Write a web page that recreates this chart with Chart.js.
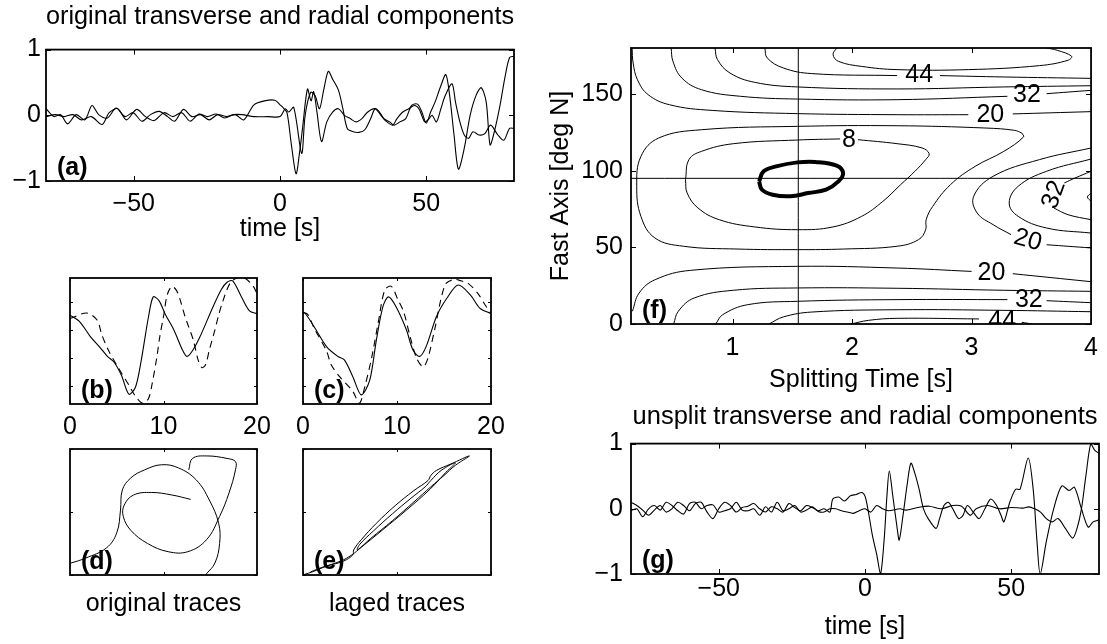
<!DOCTYPE html>
<html>
<head>
<meta charset="utf-8">
<script src="https://cdn.jsdelivr.net/npm/chart.js@4.4.1/dist/chart.umd.min.js"></script>
<style>
body { margin: 0; background: #fff; width: 1107px; height: 644px; position: relative; overflow: hidden; }
canvas { position: absolute; }
</style>
</head>
<body>
<canvas id="pa"></canvas>
<canvas id="pb"></canvas>
<canvas id="pc"></canvas>
<canvas id="pd"></canvas>
<canvas id="pe"></canvas>
<canvas id="pf"></canvas>
<canvas id="pg"></canvas>
<script>
// ---- (a) original transverse and radial components
const aTime1 = [-80,-77.3,-75,-72.6,-69.7,-66.7,-64.3,-62,-59,-56,-53,-50.2,-47.2,-44.3,-41.3,-38.4,-36,-33,-30.1,-27.2,-24.2,-21.3,-18.3,-15.3,-12.4,-8.9,-5.3,-1.8,0,1.2,2.4,3.9,5.5,6.7,7.7,9.4,10.6,11.5,12.6,14.2,16,18,20,22,24,26,28,30,32.5,34.5,36,38.5,40,42,44,46,47.5,49.5,51,52,53.5,55,56.5,58.8,60,61.5,63,64.5,66,68,70,72,74.5,76.5,78.5,80];
const aTrace1 = [0.10,-0.02,0.01,-0.13,0.01,-0.07,0.15,0.01,-0.04,0.11,-0.02,0.04,-0.09,0.01,0.06,-0.02,-0.09,0.09,-0.02,0.01,-0.07,0.01,-0.02,0.01,-0.07,0.16,0.22,0.23,0.16,0.11,0.04,-0.45,-0.89,-0.56,-0.2,0.40,0.22,0.36,0.06,-0.40,-0.1,0.05,0.1,0.0,-0.05,-0.1,-0.05,0.05,0.1,0.0,-0.08,-0.15,-0.05,0.05,0.1,0.15,0.1,-0.1,-0.05,0.0,-0.1,0.1,0.3,0.48,0.2,-0.1,-0.3,-0.35,-0.25,-0.3,-0.28,-0.15,-0.3,-0.38,-0.2,-0.2];
const aTime2 = [-80,-76.8,-73.8,-70.8,-67.9,-64.5,-60.8,-58.4,-55.5,-52.5,-49,-46,-43.1,-39.6,-36.6,-33.6,-30.7,-27.7,-24.8,-21.8,-18.9,-15.9,-13,-8.9,-4.1,0,1.8,3,4.7,7.4,8.6,10.5,12,13.5,15,16.5,18,20,21.5,23,25,27,29,31,32.5,34,35.5,37.5,39,41,43,45,47,48.5,50,51.5,53,55,56.7,58,59.5,61,63,65,67,68.8,70.5,71.8,73,75,77,78.5,80];
const aTrace2 = [-0.02,0.01,-0.02,0.01,-0.07,-0.02,-0.14,0.04,0.10,-0.07,0.09,-0.02,-0.08,0.04,-0.02,0.04,-0.09,0.02,-0.02,0.02,-0.04,0.01,0.01,-0.02,-0.02,-0.02,0.1,0.05,0.12,-0.58,0.0,0.35,0.3,0.1,0.4,0.67,0.55,0.38,0.1,-0.2,-0.25,-0.26,-0.22,-0.05,0.1,0.05,-0.05,-0.1,-0.15,-0.1,-0.05,0.15,0.17,0.05,-0.12,0.05,0.2,0.45,0.62,0.3,-0.3,-0.82,-0.5,0.0,0.3,0.42,0.2,-0.45,-0.3,0.1,0.6,0.88,0.9];

// ---- (b) original window, (c) shifted window
const bTimeSolid = [0,1.0,2.2,3.2,4.0,4.7,5.5,6.3,7.0,7.6,8.4,8.9,9.5,10.2,11.1,12.0,12.5,13.1,13.9,15.3,16.2,16.8,17.4,18.3,19.2,20];
const bSolid = [0.41,0.32,0.10,-0.05,-0.18,-0.26,-0.45,-0.72,-0.62,-0.25,0.39,0.67,0.62,0.42,0.20,-0.08,-0.18,-0.1,0.10,0.53,0.78,0.88,0.9,0.68,0.47,0.43];
const bTimeDash = [0,1.8,2.9,3.4,4.1,5.2,6.3,7.0,7.8,8.4,8.8,9.3,9.6,10.0,10.4,10.9,11.4,11.8,12.3,12.7,13.2,13.7,14.1,14.5,14.9,15.5,15.9,16.3,17.1,18.0,18.8,19.6,20];
const bDash = [0.36,0.44,0.34,0.13,-0.09,-0.35,-0.59,-0.75,-0.85,-0.78,-0.56,-0.18,0.10,0.39,0.70,0.82,0.76,0.62,0.39,0.24,0.05,-0.23,-0.34,-0.3,-0.09,0.2,0.41,0.59,0.86,0.95,0.93,0.82,0.72];
const cTimeSolid = [0,0.2,1.2,2.5,3.7,4.4,5.3,6.2,7.1,7.8,8.5,9.1,9.9,11.0,11.7,12.4,13.1,14.2,15.3,16.5,17.8,18.8,20];
const cSolid = [0.43,0.44,0.24,-0.04,-0.18,-0.23,-0.47,-0.73,-0.52,0.05,0.53,0.67,0.53,0.20,-0.09,-0.18,-0.04,0.39,0.65,0.84,0.70,0.51,0.43];
const cTimeDash = [0,0.5,1.2,2.5,3.0,3.9,5.3,6.0,6.6,7.3,8.0,8.7,9.4,10.1,10.7,11.4,12.1,12.8,13.3,14.0,15.1,16.0,16.8,17.6,18.6,19.4,20];
const cDash = [0.45,0.42,0.22,-0.1,-0.3,-0.47,-0.68,-0.85,-0.6,-0.2,0.3,0.77,0.82,0.63,0.46,0.1,-0.21,-0.33,-0.2,0.2,0.84,0.92,0.9,0.86,0.72,0.55,0.43];

// ---- (d) original particle motion, (e) lagged particle motion  [x, y]
const dPart1 = [[-1.05,-0.83],[-0.99,-0.81],[-0.83,-0.73],[-0.61,-0.57],[-0.50,-0.33],[-0.46,0.03],[-0.44,0.35],[-0.35,0.54],[-0.20,0.67],[-0.02,0.75],[0.16,0.70],[0.35,0.51],[0.49,0.19],[0.59,-0.18],[0.60,-0.50],[0.55,-0.81],[0.46,-0.98],[0.42,-1.05]];
const dPart2 = [[0.29,0.20],[0.09,0.27],[-0.13,0.31],[-0.32,0.27],[-0.42,0.11],[-0.43,-0.07],[-0.35,-0.29],[-0.17,-0.50],[0.05,-0.63],[0.26,-0.63],[0.46,-0.44],[0.60,-0.07],[0.70,0.30],[0.77,0.67],[0.77,0.80],[0.68,0.85],[0.46,0.89],[0.31,0.85],[0.27,0.67]];
const ePath = [[-1.05,-1.02],[-0.9,-0.95],[-0.75,-0.86],[-0.57,-0.78],[-0.47,-0.68],[-0.46,-0.60],[-0.38,-0.44],[-0.22,-0.18],[-0.02,0.10],[0.18,0.34],[0.33,0.50],[0.36,0.58],[0.42,0.66],[0.57,0.76],[0.77,0.89],[0.62,0.74],[0.50,0.58],[0.36,0.40],[0.18,0.16],[-0.05,-0.14],[-0.28,-0.42],[-0.42,-0.60],[-0.40,-0.52],[-0.25,-0.30],[-0.05,-0.03],[0.15,0.22],[0.30,0.40],[0.36,0.50],[0.47,0.66],[0.62,0.78],[0.52,0.63],[0.35,0.36],[0.10,0.03],[-0.15,-0.28],[-0.38,-0.56],[-0.48,-0.68],[-0.6,-0.78],[-0.8,-0.88],[-0.92,-0.95]];

// ---- (f) energy grid contours  [splitting time s, fast axis deg]
const bestDt = 1.55;
const bestPhi = 95;
const cont8 = [[0.606,94.1],[0.635,107.2],[0.74,112.6],[1.008,117.6],[1.544,120.0],[1.90,120.7]];
const cont8b = [[2.05,120.2],[2.377,117.6],[2.586,114.8],[2.645,111.1],[2.616,107.2],[2.526,99.6],[2.407,90.9],[2.258,80.0],[2.08,70.2],[1.84,63.3],[1.544,61.5],[1.186,63.3],[0.889,68.0],[0.71,75.7],[0.62,85.4],[0.606,94.1]];
const conf95 = [[1.222,93.0],[1.26,99.6],[1.365,102.8],[1.544,105.4],[1.692,105.7],[1.871,103.3],[1.925,98.5],[1.886,93.0],[1.782,87.6],[1.633,85.4],[1.484,83.3],[1.335,84.3],[1.246,87.6],[1.222,93.0]];
const cont14 = [[3.42,124.6],[3.435,122.0],[3.27,112.6],[3.03,102.8],[2.824,90.9],[2.675,76.7],[2.62,68.0],[2.616,61.5],[2.556,55.0],[2.377,50.7],[1.93,48.9],[1.544,48.5],[1.037,48.9],[0.59,50.7],[0.35,56.1],[0.233,70.2],[0.198,89.8],[0.233,109.3],[0.382,121.3],[0.74,126.7],[1.544,128.9],[2.377,129.3],[3.12,127.8],[3.36,126.3],[3.42,124.6]];
const topA1 = [[0.159,180],[0.168,170.2],[0.204,159.3],[0.293,149.6],[0.472,143.0],[0.829,139.3],[1.544,137.2],[2.377,136.5],[2.973,136.5]];
const topA2 = [[3.345,137.0],[4.0,138.5]];
const topB1 = [[0.486,180],[0.501,171.3],[0.576,160.4],[0.74,152.8],[1.067,148.5],[1.544,146.7],[2.377,146.3],[3.3,148.5]];
const topB2 = [[3.628,150.2],[4.0,152.4]];
const topC = [[0.853,180],[0.874,172.4],[0.978,163.7],[1.186,157.6],[1.544,154.6],[2.377,153.3],[3.27,154.6],[4.0,155.4]];
const topD1 = [[1.27,180],[1.29,173.5],[1.424,167.0],[1.663,163.3],[2.377,162.0]];
const topD2 = [[2.735,162.0],[3.27,161.1],[4.0,160.2]];
const topU = [[1.871,180],[1.841,175.7],[1.886,171.3],[2.08,168.0],[2.377,165.9],[2.973,165.9],[3.568,168.5],[3.807,172.0],[3.837,174.6],[3.717,178.5],[3.628,180]];
const botA1 = [[0.162,8.3],[0.218,20.2],[0.352,28.9],[0.65,35.0],[1.544,37.6],[2.377,36.5],[3.0,34.3]];
const botA2 = [[3.345,32.8],[4.0,27.6]];
const botB = [[0.507,0],[0.546,8.3],[0.68,17.0],[1.008,22.0],[1.544,23.5],[2.377,23.3],[3.27,22.0],[4.0,21.3]];
const botC1 = [[0.859,0],[0.918,6.1],[1.127,12.6],[1.544,14.8],[2.377,15.9],[3.3,15.9]];
const botC2 = [[3.628,15.2],[4.0,13.9]];
const botD = [[1.305,0],[1.424,4.6],[1.663,7.8],[2.377,9.3],[3.27,8.9],[4.0,8.0]];
const botE1 = [[1.99,0],[2.139,2.4],[2.377,3.7],[3.062,3.3]];
const botE2 = [[3.42,1.1],[3.51,0]];
const rightA1 = [[4.0,114.8],[3.568,107.2],[3.18,96.3],[3.018,83.3],[3.047,72.4],[3.18,64.8],[3.33,58.3]];
const rightA2 = [[3.628,51.7],[4.0,49.6]];
const rightB = [[4.0,107.6],[3.628,99.6],[3.39,89.8],[3.315,78.9],[3.39,70.2],[3.628,62.6],[4.0,59.3]];
const rightC1 = [[4.0,99.6],[3.866,95.2],[3.777,92.0]];
const rightC2 = [[3.688,75.7],[3.807,71.3],[4.0,68.0]];
const rightD = [[4.0,85.4],[3.97,82.8],[4.0,80.0]];

// ---- (g) unsplit transverse and radial components
const gTime1 = [-80,-78,-76,-74,-72,-70,-68,-66,-64,-62,-60,-58,-56,-54,-52,-50,-48,-46,-44,-42,-40,-38,-36,-34,-32,-30,-28,-26,-24,-22,-20,-18,-16,-14,-12,-11,-9,-7,-5,-3,-1,0.3,2.5,4,5.3,6.5,7.5,8.3,9.5,11,11.7,13,14.5,15.7,17,18.5,20,21.6,24.3,25.5,27,28.5,30,32,33.5,35,37,39,41,43,45,46.5,47.5,49.5,51.5,53,55.8,57.5,58.8,59.9,62,64.5,67.3,69.8,71.6,74,76.3,78,80];
const gTrace1 = [0.1,0.05,-0.02,-0.1,-0.02,0.05,-0.05,0.0,0.1,0.05,-0.03,0.08,0.1,-0.05,-0.15,0.0,0.1,0.05,-0.05,0.02,0.04,0.08,0.0,-0.05,0.03,0.0,-0.05,0.08,0.02,-0.03,0.05,0.02,-0.03,0.0,-0.05,0.15,0.18,0.12,0.2,0.22,0.25,0.15,-0.4,-0.7,-1.0,-0.5,0.2,0.58,0.2,-0.3,-0.48,-0.1,0.4,0.7,0.55,0.3,0.0,-0.15,-0.3,-0.15,0.05,0.1,0.0,-0.15,-0.1,0.05,-0.05,-0.15,0.0,0.15,0.05,-0.1,-0.2,0.1,0.3,0.3,0.78,0.3,-0.5,-1.0,-0.5,0.0,0.35,0.28,0.33,0.0,-0.28,-0.2,-0.17];
const gTime2 = [-80,-78,-76,-74,-72,-70,-68,-66,-64,-62,-60,-58,-56,-54,-52,-50,-48,-46,-44,-42,-40,-38,-36,-34,-32,-30,-28,-26,-24,-22,-20,-18,-16,-14,-12,-10,-8,-6,-4,-2,0,2,4,6,8,12,14,18,22,26,30,33,36,38,42,46,50,54,56,58,60,62,64,66,68.5,71,72.5,74,75.5,77.2,78.5,80];
const gTrace2 = [-0.03,0.0,-0.12,0.0,0.05,-0.02,0.1,0.05,-0.03,-0.08,0.08,0.1,0.0,0.05,0.06,-0.05,-0.03,0.0,0.1,-0.02,-0.03,0.0,-0.1,0.03,-0.05,0.1,-0.03,0.0,0.05,-0.05,-0.02,0.03,-0.04,-0.05,0.0,0.0,-0.03,-0.05,-0.07,-0.03,0.0,-0.05,0.05,0.0,-0.03,0.0,-0.02,0.02,0.04,0.0,0.05,0.04,-0.1,0.0,0.05,0.0,0.02,0.01,0.03,0.0,-0.05,-0.15,-0.2,-0.15,-0.3,-0.45,-0.3,0.0,0.5,1.0,0.9,0.85];

// tick values
const timeTicks = [-50, 0, 50];
const ampTicks = [-1, 0, 1];
const winTicks = [0, 10, 20];
const winAmpTicks = [-0.6, -0.2, 0.2, 0.6];
const pmTicks = [-1, 0, 1];
const dtTicks = [1, 2, 3, 4];
const phiTicks = [0, 50, 100, 150];

Chart.defaults.font.family = '"Liberation Sans", Arial, Helvetica, sans-serif';
Chart.defaults.font.size = 25;
Chart.defaults.color = '#000';

function fmt(v) { return v < 0 ? '\u2212' + Math.abs(v) : String(v); }

function line(xs, ys, w, dash) {
  return { data: xs.map((x, i) => ({ x: x, y: ys[i] })), showLine: true, pointRadius: 0,
    borderColor: '#000', borderWidth: w || 1.1, borderDash: dash || [], tension: 0.3 };
}
function path(pairs, w) {
  return { data: pairs.map(p => ({ x: p[0], y: p[1] })), showLine: true, pointRadius: 0,
    borderColor: '#000', borderWidth: w || 1, tension: 0.4 };
}

// frame, inward ticks and panel letter
const frame = {
  id: 'frame',
  afterDatasetsDraw(chart, args, o) {
    const { ctx, chartArea: a, scales: { x, y } } = chart;
    ctx.save();
    ctx.strokeStyle = '#000';
    ctx.lineWidth = 1;
    ctx.beginPath();
    x.ticks.forEach(t => {
      const p = Math.round(x.getPixelForValue(t.value)) + 0.5;
      ctx.moveTo(p, a.bottom); ctx.lineTo(p, a.bottom - o.len);
      ctx.moveTo(p, a.top); ctx.lineTo(p, a.top + o.len);
    });
    y.ticks.forEach(t => {
      const p = Math.round(y.getPixelForValue(t.value)) + 0.5;
      ctx.moveTo(a.left, p); ctx.lineTo(a.left + o.len, p);
      ctx.moveTo(a.right, p); ctx.lineTo(a.right - o.len, p);
    });
    ctx.stroke();
    ctx.lineWidth = 1.8;
    ctx.strokeRect(a.left, a.top, a.right - a.left, a.bottom - a.top);
    if (o.label) {
      ctx.font = 'bold 25px "Liberation Sans", Arial, sans-serif';
      ctx.fillStyle = '#000';
      ctx.textAlign = 'left';
      ctx.textBaseline = 'alphabetic';
      ctx.fillText(o.label, a.left + 11, a.bottom - 6);
    }
    ctx.restore();
  }
};

// contour level labels
const clabels = {
  id: 'clabels',
  afterDatasetsDraw(chart, args, o) {
    if (!o.items || !o.items.length) return;
    const { ctx, chartArea: a, scales: { x, y } } = chart;
    ctx.save();
    ctx.beginPath();
    ctx.rect(a.left, a.top, a.right - a.left, a.bottom - a.top);
    ctx.clip();
    ctx.font = '25px "Liberation Sans", Arial, sans-serif';
    ctx.fillStyle = '#000';
    ctx.textAlign = 'center';
    ctx.textBaseline = 'middle';
    o.items.forEach(it => {
      ctx.save();
      ctx.translate(x.getPixelForValue(it.x), y.getPixelForValue(it.y));
      ctx.rotate((it.r || 0) * Math.PI / 180);
      ctx.fillText(it.t, 0, 0);
      ctx.restore();
    });
    ctx.restore();
  }
};

function axis(o) {
  return {
    type: 'linear', min: o.min, max: o.max,
    grid: { display: false, drawTicks: false }, border: { display: false },
    ticks: { display: !!o.show, padding: o.pad || 0, autoSkip: false, maxRotation: 0, callback: fmt },
    afterBuildTicks: s => { s.ticks = o.ticks.map(v => ({ value: v })); },
    afterFit: s => { if (o.w !== undefined) s.width = o.w; if (o.h !== undefined) s.height = o.h; },
    title: { display: !!o.title, text: o.title || '', padding: o.titlePad || 0 }
  };
}

function panel(id, box, plot, o) {
  const cv = document.getElementById(id);
  cv.width = box.w; cv.height = box.h;
  cv.style.left = box.x + 'px'; cv.style.top = box.y + 'px';
  const hasTitle = !!o.title;
  const pt = hasTitle ? o.titleY - box.y - 15 : 0;
  const pb = hasTitle ? plot.t - box.y - pt - 30 : 0;
  o.x.h = box.y + box.h - plot.b;
  o.y.w = plot.l - box.x;
  return new Chart(cv, {
    type: 'scatter',
    data: { datasets: o.datasets },
    options: {
      responsive: false, animation: false, devicePixelRatio: 1,
      layout: { padding: { left: 0, top: hasTitle ? 0 : plot.t - box.y, right: box.x + box.w - plot.r, bottom: 0 } },
      plugins: {
        legend: { display: false }, tooltip: { enabled: false },
        title: { display: hasTitle, text: o.title || '', fullSize: false, padding: { top: pt, bottom: pb },
                 font: { size: 25.5, weight: 'normal' }, color: '#000' },
        frame: { len: o.len, label: o.label },
        clabels: { items: o.clabels || [] }
      },
      scales: { x: axis(o.x), y: axis(o.y) }
    },
    plugins: [frame, clabels]
  });
}

// (a)
panel('pa', { x: 0, y: 0, w: 540, h: 250 }, { l: 46, t: 49, r: 514, b: 181 }, {
  title: 'original transverse and radial components', titleY: 17, len: 5, label: '(a)',
  datasets: [line(aTime1, aTrace1), line(aTime2, aTrace2)],
  x: { min: -80, max: 80, ticks: timeTicks, show: true, pad: 8, title: 'time [s]', titlePad: { top: 0, bottom: 6 } },
  y: { min: -1, max: 1, ticks: ampTicks, show: true, pad: 5 }
});

// (b)
panel('pb', { x: 0, y: 250, w: 280, h: 190 }, { l: 70, t: 278, r: 257, b: 404 }, {
  len: 3, label: '(b)',
  datasets: [line(bTimeSolid, bSolid), line(bTimeDash, bDash, 1.1, [7, 5])],
  x: { min: 0, max: 20, ticks: winTicks, show: true, pad: 8 },
  y: { min: -0.86, max: 0.94, ticks: winAmpTicks, show: false }
});

// (c)
panel('pc', { x: 280, y: 250, w: 260, h: 190 }, { l: 303, t: 278, r: 491, b: 404 }, {
  len: 3, label: '(c)',
  datasets: [line(cTimeSolid, cSolid), line(cTimeDash, cDash, 1.1, [7, 5])],
  x: { min: 0, max: 20, ticks: winTicks, show: true, pad: 8 },
  y: { min: -0.86, max: 0.94, ticks: winAmpTicks, show: false }
});

// (d)
panel('pd', { x: 0, y: 440, w: 280, h: 204 }, { l: 70, t: 449, r: 257, b: 575 }, {
  len: 3, label: '(d)',
  datasets: [path(dPart1), path(dPart2)],
  x: { min: -1, max: 1, ticks: pmTicks, show: false, title: 'original traces', titlePad: { top: 0, bottom: 25 } },
  y: { min: -1, max: 1, ticks: pmTicks, show: false }
});

// (e)
panel('pe', { x: 280, y: 440, w: 260, h: 204 }, { l: 303, t: 449, r: 491, b: 575 }, {
  len: 3, label: '(e)',
  datasets: [path(ePath)],
  x: { min: -1, max: 1, ticks: pmTicks, show: false, title: 'laged traces', titlePad: { top: 0, bottom: 25 } },
  y: { min: -1, max: 1, ticks: pmTicks, show: false }
});

// (f)
const fLines = [cont8, cont8b, cont14, topA1, topA2, topB1, topB2, topC, topD1, topD2, topU,
  botA1, botA2, botB, botC1, botC2, botD, botE1, botE2, rightA1, rightA2, rightB, rightC1, rightC2, rightD];
const fSets = fLines.map(c => path(c, 1));
fSets.push(path(conf95, 4));
fSets.push(path([[bestDt, 0], [bestDt, 180]], 1));
fSets.push(path([[0.15, bestPhi], [4, bestPhi]], 1));
panel('pf', { x: 540, y: 0, w: 567, h: 395 }, { l: 631, t: 48, r: 1099, b: 324 }, {
  len: 5, label: '(f)',
  datasets: fSets,
  clabels: [
    { t: '44', x: 2.562, y: 162.0 }, { t: '32', x: 3.464, y: 149.6 }, { t: '20', x: 3.157, y: 136.5 },
    { t: '8', x: 1.975, y: 120.2 }, { t: '32', x: 3.69, y: 84.3, r: -70 }, { t: '20', x: 3.47, y: 54.6, r: 15 },
    { t: '20', x: 3.167, y: 33.3 }, { t: '32', x: 3.479, y: 15.9 }, { t: '44', x: 3.256, y: 2.2 }
  ],
  x: { min: 0.15, max: 4, ticks: dtTicks, show: true, pad: 9, title: 'Splitting Time [s]', titlePad: { top: 0, bottom: 0 } },
  y: { min: 0, max: 180, ticks: phiTicks, show: true, pad: 8, title: 'Fast Axis [deg N]', titlePad: { top: 6, bottom: 0 } }
});

// (g)
panel('pg', { x: 540, y: 395, w: 567, h: 249 }, { l: 631, t: 443, r: 1099, b: 574 }, {
  title: 'unsplit transverse and radial components', titleY: 417, len: 5, label: '(g)',
  datasets: [line(gTime1, gTrace1), line(gTime2, gTrace2)],
  x: { min: -80, max: 80, ticks: timeTicks, show: true, pad: 0, title: 'time [s]', titlePad: { top: 0, bottom: 2 } },
  y: { min: -1, max: 1, ticks: ampTicks, show: true, pad: 8 }
});
</script>
</body>
</html>
